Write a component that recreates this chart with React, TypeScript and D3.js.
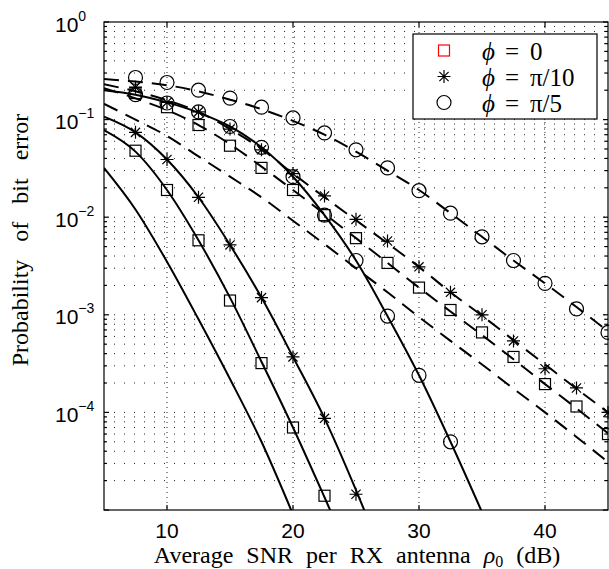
import { useEffect, useRef } from 'react';
import * as d3 from 'd3';

// SNR grid of the analysis curves (dB)
const snrDb = [5, 7.5, 10, 12.5, 15, 17.5, 20, 22.5, 25, 27.5, 30, 32.5, 35, 37.5, 40, 42.5, 45];
// SNR points of the simulated markers (dB)
const simSnrDb = [7.5, 10, 12.5, 15, 17.5, 20, 22.5, 25, 27.5, 30, 32.5, 35, 37.5, 40, 42.5, 45];

// analysis, solid lines (values continue until they leave the bottom of the axes)
const solidRef = [0.032, 0.012, 0.0035, 9e-4, 2.2e-4, 5e-5, 9e-6];
const solidPhi0 = [0.078, 0.047, 0.019, 0.0058, 0.0015, 3.3e-4, 7e-5, 1.35e-5, 2.5e-6];
const solidPhi10 = [0.107, 0.074, 0.039, 0.016, 0.0052, 1.5e-3, 3.7e-4, 8.7e-5, 1.6e-5, 2.5e-6];
const solidPhi5 = [0.2, 0.18, 0.15, 0.118, 0.085, 0.052, 0.026, 0.0105, 0.0036, 9.7e-4, 2.4e-4, 5e-5, 9.5e-6];

// analysis, dashed lines
const dashedRef = [0.145, 0.1, 0.068, 0.042, 0.026, 0.016, 0.0092, 0.0053, 0.003, 0.0017, 9.5e-4, 5.4e-4, 3.1e-4, 1.75e-4, 1.0e-4, 5.6e-5, 3.1e-5];
const dashedPhi0 = [0.21, 0.165, 0.125, 0.088, 0.056, 0.033, 0.019, 0.0108, 0.0061, 0.0034, 0.0019, 0.00108, 6.2e-4, 3.5e-4, 1.95e-4, 1.1e-4, 6.1e-5];
const dashedPhi10 = [0.23, 0.195, 0.158, 0.12, 0.08, 0.05, 0.028, 0.016, 0.0093, 0.0054, 0.0031, 0.0017, 9.8e-4, 5.5e-4, 3.1e-4, 1.75e-4, 1.0e-4];
const dashedPhi5 = [0.26, 0.245, 0.225, 0.195, 0.16, 0.128, 0.097, 0.07, 0.047, 0.03, 0.019, 0.011, 0.0063, 0.0036, 0.0021, 0.0012, 6.8e-4];

// simulation markers
const simSolidPhi0 = [0.048, 0.019, 0.0058, 0.0014, 3.2e-4, 7e-5, 1.4e-5];
const simSolidPhi10 = [0.074, 0.039, 0.016, 0.0052, 1.5e-3, 3.7e-4, 8.7e-5, 1.45e-5];
const simSolidPhi5 = [0.18, 0.148, 0.12, 0.085, 0.052, 0.026, 0.0105, 0.0036, 9.7e-4, 2.4e-4, 5e-5];
const simDashedPhi0 = [0.187, 0.134, 0.088, 0.054, 0.032, 0.019, 0.0105, 0.0061, 0.0034, 0.0019, 0.00112, 6.6e-4, 3.7e-4, 1.95e-4, 1.15e-4, 6e-5];
const simDashedPhi10 = [0.215, 0.15, 0.12, 0.08, 0.049, 0.028, 0.0165, 0.0095, 0.0057, 0.0031, 0.0017, 1.0e-3, 5.4e-4, 2.8e-4, 1.78e-4, 1.0e-4];
const simDashedPhi5 = [0.27, 0.24, 0.2, 0.166, 0.134, 0.104, 0.073, 0.049, 0.032, 0.0187, 0.011, 0.0063, 0.0036, 0.0021, 0.00115, 6.6e-4];

const xTicks = [10, 20, 30, 40];
const yTickExponents = [0, -1, -2, -3, -4];
const legendLabels = ['0', 'π/10', 'π/5'];

type Marker = 'square' | 'star' | 'circle';

function drawMarker(g: any, kind: Marker, cx: number, cy: number, color = '#000') {
  if (kind === 'square') {
    g.append('rect').attr('x', cx - 5.5).attr('y', cy - 5.5).attr('width', 11).attr('height', 11)
      .attr('fill', 'none').attr('stroke', color).attr('stroke-width', 1.2);
  } else if (kind === 'circle') {
    g.append('circle').attr('cx', cx).attr('cy', cy).attr('r', 7)
      .attr('fill', 'none').attr('stroke', color).attr('stroke-width', 1.2);
  } else {
    const a = 6.5, b = 4.6;
    g.append('path')
      .attr('d', `M${cx - a},${cy}H${cx + a}M${cx},${cy - a}V${cy + a}M${cx - b},${cy - b}L${cx + b},${cy + b}M${cx - b},${cy + b}L${cx + b},${cy - b}`)
      .attr('fill', 'none').attr('stroke', color).attr('stroke-width', 1.2);
  }
}

function App() {
  const svgRef = useRef<SVGSVGElement>(null);

  useEffect(() => {
    const svg = d3.select(svgRef.current);
    svg.selectAll('*').remove();

    const left = 104, right = 608, top = 22, bottom = 510;
    const x = d3.scaleLinear().domain([5, 45]).range([left, right]);
    const y = d3.scaleLog().domain([1e-5, 1]).range([bottom, top]);

    svg.append('rect').attr('width', 609).attr('height', 569).attr('fill', '#fff');

    svg.append('defs').append('clipPath').attr('id', 'plot-clip')
      .append('rect').attr('x', left).attr('y', top).attr('width', right - left).attr('height', bottom - top);

    // grid
    const grid = svg.append('g').attr('stroke', '#222').attr('stroke-width', 1);
    for (let e = -5; e < 0; e++) {
      for (let k = 1; k < 10; k++) {
        const v = k * Math.pow(10, e);
        if (v <= 1e-5) continue;
        grid.append('line').attr('x1', left).attr('x2', right).attr('y1', y(v)).attr('y2', y(v))
          .attr('stroke-dasharray', '1,9');
      }
    }
    xTicks.forEach(t => {
      grid.append('line').attr('x1', x(t)).attr('x2', x(t)).attr('y1', top).attr('y2', bottom)
        .attr('stroke-dasharray', '1,4');
    });

    // curves
    const line = d3.line<number>()
      .x((d, i) => x(snrDb[i]))
      .y(d => y(d))
      .curve(d3.curveMonotoneX);
    const curves = svg.append('g').attr('clip-path', 'url(#plot-clip)')
      .attr('fill', 'none').attr('stroke', '#000').attr('stroke-width', 2);
    [solidRef, solidPhi0, solidPhi10, solidPhi5].forEach(vals => {
      curves.append('path').attr('d', line(vals));
    });
    [dashedRef, dashedPhi0, dashedPhi10, dashedPhi5].forEach(vals => {
      curves.append('path').attr('d', line(vals)).attr('stroke-dasharray', '15,9');
    });

    // simulation markers
    const markers = svg.append('g');
    const sims: [number[], Marker][] = [
      [simSolidPhi0, 'square'], [simSolidPhi10, 'star'], [simSolidPhi5, 'circle'],
      [simDashedPhi0, 'square'], [simDashedPhi10, 'star'], [simDashedPhi5, 'circle'],
    ];
    sims.forEach(([vals, kind]) => {
      vals.forEach((v, i) => drawMarker(markers, kind, x(simSnrDb[i]), y(v)));
    });

    // axes box and ticks
    const axes = svg.append('g').attr('stroke', '#000').attr('stroke-width', 1.2);
    axes.append('rect').attr('x', left).attr('y', top).attr('width', right - left).attr('height', bottom - top)
      .attr('fill', 'none');
    xTicks.forEach(t => {
      axes.append('line').attr('x1', x(t)).attr('x2', x(t)).attr('y1', bottom).attr('y2', bottom - 5);
      axes.append('line').attr('x1', x(t)).attr('x2', x(t)).attr('y1', top).attr('y2', top + 5);
    });
    for (let e = -5; e <= 0; e++) {
      for (let k = 1; k < 10; k++) {
        const v = k * Math.pow(10, e);
        if (v > 1) continue;
        const len = k === 1 ? 5 : 3;
        axes.append('line').attr('x1', left).attr('x2', left + len).attr('y1', y(v)).attr('y2', y(v));
        axes.append('line').attr('x1', right).attr('x2', right - len).attr('y1', y(v)).attr('y2', y(v));
      }
    }

    // tick labels
    const sans = "'Liberation Sans', Arial, sans-serif";
    xTicks.forEach(t => {
      svg.append('text').attr('x', x(t)).attr('y', 538).attr('text-anchor', 'middle')
        .style('font-family', sans).attr('font-size', 21).text(t);
    });
    yTickExponents.forEach(e => {
      const txt = svg.append('text').attr('x', 55).attr('y', y(Math.pow(10, e)) + 9.5)
        .attr('text-anchor', 'start').style('font-family', sans).attr('font-size', 21);
      txt.append('tspan').text('10');
      txt.append('tspan').attr('dy', -11).attr('font-size', 14).text(e < 0 ? `\u2212${-e}` : `${e}`);
    });

    // axis labels
    const serif = "'Liberation Serif', 'Times New Roman', serif";
    const xl = svg.append('text').attr('x', 357).attr('y', 563).attr('text-anchor', 'middle')
      .style('font-family', serif).attr('font-size', 24).attr('word-spacing', 7);
    xl.append('tspan').text('Average SNR per RX antenna ');
    xl.append('tspan').attr('font-style', 'italic').text('ρ');
    xl.append('tspan').attr('font-size', 16).attr('dy', 4).text('0');
    xl.append('tspan').attr('dy', -4).text(' (dB)');

    svg.append('text').attr('transform', 'translate(28,240) rotate(-90)').attr('text-anchor', 'middle')
      .style('font-family', serif).attr('font-size', 24).attr('word-spacing', 12)
      .text('Probability of bit error');

    // legend
    const lg = svg.append('g');
    lg.append('rect').attr('x', 413).attr('y', 34).attr('width', 184).attr('height', 85)
      .attr('fill', '#fff').attr('stroke', '#000').attr('stroke-width', 1.2);
    const kinds: Marker[] = ['square', 'star', 'circle'];
    legendLabels.forEach((lab, i) => {
      const base = 60 + i * 26;
      drawMarker(lg, kinds[i], 444, base - 9.5, i === 0 ? '#f00' : '#000');
      lg.append('text').attr('x', 482).attr('y', base).style('font-family', serif).attr('font-size', 25)
        .attr('font-style', 'italic').text('\u03d5');
      lg.append('text').attr('x', 505).attr('y', base).style('font-family', serif).attr('font-size', 25).text('=');
      lg.append('text').attr('x', 530).attr('y', base).style('font-family', serif).attr('font-size', 25).text(lab);
    });
  }, []);

  return (
    <svg ref={svgRef} width={609} height={569}
      style={{ position: 'absolute', left: 0, top: 0, display: 'block' }} />
  );
}

export default App;
